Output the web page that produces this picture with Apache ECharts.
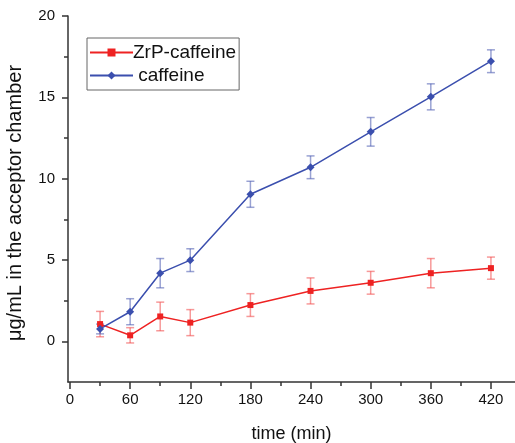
<!DOCTYPE html>
<html>
<head>
<meta charset="utf-8">
<script src="https://cdn.jsdelivr.net/npm/echarts@6/dist/echarts.min.js"></script>
<style>
  html, body { margin: 0; padding: 0; background: #fff; }
  #main { width: 515px; height: 443px; }
</style>
</head>
<body>
<div id="main"></div>
<script>
// time points (min)
const times = [30, 60, 90, 120, 180, 240, 300, 360, 420];

// ZrP-caffeine
const zrpMean = [1.06, 0.37, 1.53, 1.15, 2.23, 3.1, 3.6, 4.19, 4.5];
const zrpErr = [0.78, 0.47, 0.88, 0.8, 0.7, 0.8, 0.7, 0.9, 0.68];

// caffeine
const cafMean = [0.76, 1.82, 4.19, 4.99, 9.04, 10.7, 12.88, 15.03, 17.22];
const cafErr = [0.3, 0.8, 0.9, 0.7, 0.8, 0.7, 0.88, 0.8, 0.7];

const xTicks = [0, 60, 120, 180, 240, 300, 360, 420];
const xMinorTicks = [30, 90, 150, 210, 270, 330, 390];
const yTicks = [0, 5, 10, 15, 20];
const yMinorTicks = [2.5, 7.5, 12.5, 17.5];

const FONT = 'Liberation Sans, Arial, sans-serif';
const AXIS = '#333';

const chartDom = document.getElementById('main');
const myChart = echarts.init(chartDom);

function pairs(means) {
  return times.map((t, i) => [t, means[i]]);
}

function errData(means, errs) {
  return times.map((t, i) => [t, means[i] - errs[i], means[i] + errs[i]]);
}

function errorBars(color) {
  return function (params, api) {
    const x = api.value(0);
    const lo = api.coord([x, api.value(1)]);
    const hi = api.coord([x, api.value(2)]);
    const w = 4;
    const style = { stroke: color, lineWidth: 1.5 };
    return {
      type: 'group',
      children: [
        { type: 'line', shape: { x1: lo[0], y1: lo[1], x2: hi[0], y2: hi[1] }, style },
        { type: 'line', shape: { x1: lo[0] - w, y1: lo[1], x2: lo[0] + w, y2: lo[1] }, style },
        { type: 'line', shape: { x1: hi[0] - w, y1: hi[1], x2: hi[0] + w, y2: hi[1] }, style }
      ]
    };
  };
}

const xBase = {
  type: 'value',
  min: -2,
  max: 444,
  position: 'bottom',
  splitLine: { show: false }
};
const yBase = {
  type: 'value',
  min: -2.5,
  max: 20,
  position: 'left',
  splitLine: { show: false }
};

const option = {
  animation: false,
  grid: { left: 68, right: 0, top: 16, bottom: 61, outerBoundsMode: 'none', containLabel: false },
  legend: {
    orient: 'vertical',
    left: 87,
    top: 38,
    padding: [5, 3, 5, 2],
    borderColor: '#666',
    borderWidth: 1,
    itemWidth: 43,
    itemHeight: 10,
    itemGap: 4,
    textStyle: { fontFamily: FONT, fontSize: 19, color: '#111', padding: [0, 0, 0, -5] },
    formatter: function (name) {
      return name === 'caffeine' ? ' caffeine' : name;
    },
    data: ['ZrP-caffeine', 'caffeine']
  },
  xAxis: [
    Object.assign({}, xBase, {
      name: 'time (min)',
      nameLocation: 'middle',
      nameGap: 43,
      nameTextStyle: { fontFamily: FONT, fontSize: 18, color: '#111' },
      axisLine: { onZero: false, lineStyle: { color: AXIS, width: 1.5 } },
      axisTick: { customValues: xTicks, length: 7, lineStyle: { color: AXIS, width: 1.5 } },
      axisLabel: { customValues: xTicks, fontFamily: FONT, fontSize: 15, color: '#111', margin: 10 }
    }),
    Object.assign({}, xBase, {
      axisLine: { show: false, onZero: false },
      axisTick: { customValues: xMinorTicks, length: 4, lineStyle: { color: AXIS, width: 1.5 } },
      axisLabel: { show: false }
    })
  ],
  yAxis: [
    Object.assign({}, yBase, {
      name: 'μg/mL in the acceptor chamber',
      nameLocation: 'middle',
      nameGap: 43,
      nameTextStyle: { fontFamily: FONT, fontSize: 20, color: '#111', padding: [0, 8, 0, 0] },
      axisLine: { onZero: false, lineStyle: { color: AXIS, width: 1.5 } },
      axisTick: { customValues: yTicks, length: 6, lineStyle: { color: AXIS, width: 1.5 } },
      axisLabel: { customValues: yTicks, fontFamily: FONT, fontSize: 15, color: '#111', margin: 13 }
    }),
    Object.assign({}, yBase, {
      axisLine: { show: false, onZero: false },
      axisTick: { customValues: yMinorTicks, length: 4, lineStyle: { color: AXIS, width: 1.5 } },
      axisLabel: { show: false }
    })
  ],
  series: [
    {
      name: 'zrp-err',
      type: 'custom',
      renderItem: errorBars('rgba(240, 70, 70, 0.55)'),
      data: errData(zrpMean, zrpErr),
      encode: { x: 0, y: [1, 2] },
      z: 1,
      silent: true
    },
    {
      name: 'caf-err',
      type: 'custom',
      renderItem: errorBars('rgba(70, 85, 175, 0.55)'),
      data: errData(cafMean, cafErr),
      encode: { x: 0, y: [1, 2] },
      z: 1,
      silent: true
    },
    {
      name: 'ZrP-caffeine',
      type: 'line',
      data: pairs(zrpMean),
      symbol: 'rect',
      symbolSize: 6,
      color: '#ee2222',
      lineStyle: { color: '#ee2222', width: 1.5 },
      itemStyle: { color: '#ee2222' },
      z: 3
    },
    {
      name: 'caffeine',
      type: 'line',
      data: pairs(cafMean),
      symbol: 'diamond',
      symbolSize: 8,
      color: '#3b4fae',
      lineStyle: { color: '#3b4fae', width: 1.5 },
      itemStyle: { color: '#3b4fae' },
      z: 3
    }
  ]
};

option && myChart.setOption(option);
</script>
</body>
</html>
